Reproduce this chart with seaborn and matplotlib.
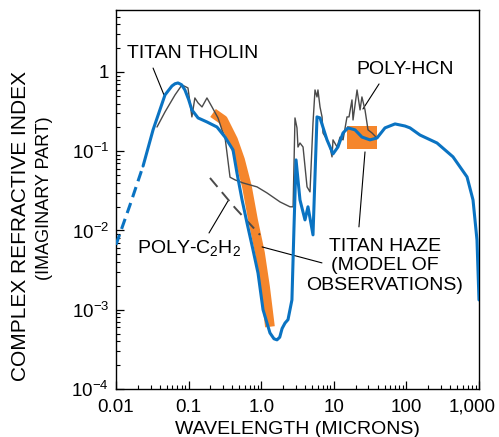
import numpy as np
import pandas as pd
import matplotlib
matplotlib.use('Agg')
import matplotlib.pyplot as plt
import matplotlib.transforms as mtransforms
import seaborn as sns
from matplotlib.ticker import FixedLocator, NullFormatter

sns.set_style('white')
plt.rcParams['font.family'] = ['Liberation Sans', 'DejaVu Sans']
plt.rcParams['mathtext.fontset'] = 'custom'
plt.rcParams['mathtext.rm'] = 'Liberation Sans'
plt.rcParams['mathtext.default'] = 'regular'
for k in ['text.color', 'axes.labelcolor', 'xtick.color', 'ytick.color', 'axes.edgecolor']:
    plt.rcParams[k] = 'black'

# titan haze model (blue), dashed extrapolation at short wavelengths
haze_dash_x = [0.01, 0.0156, 0.0236]
haze_dash_y = [0.0066, 0.021, 0.065]
haze_x = [0.0236, 0.0324, 0.0473, 0.059, 0.0650, 0.0715, 0.080, 0.089, 0.100, 0.111,
          0.135, 0.179, 0.246, 0.317, 0.409, 0.464, 0.545, 0.637, 0.771, 0.904,
          1.06, 1.32, 1.50, 1.65, 1.80, 1.94, 2.13, 2.34, 2.65, 2.83,
          3.02, 3.42, 4.01, 4.41, 5.17, 5.87, 6.46, 8.06, 9.75, 11.4,
          13.4, 15.7, 19.6, 24.4, 31.5, 39.4, 50.7, 69.7, 95.6, 112,
          154, 264, 438, 684, 827, 938, 1000]
haze_y = [0.065, 0.186, 0.513, 0.666, 0.71, 0.727, 0.69, 0.593, 0.45, 0.332,
          0.263, 0.234, 0.202, 0.151, 0.104, 0.053, 0.0243, 0.0125, 0.0057, 0.0029,
          0.0010, 0.00051, 0.00043, 0.000417, 0.00045, 0.00058, 0.00068, 0.00075, 0.00133, 0.0111,
          0.0777, 0.0243, 0.0136, 0.0199, 0.0088, 0.271, 0.263, 0.139, 0.0925, 0.113,
          0.17, 0.197, 0.186, 0.151, 0.139, 0.147, 0.197, 0.221, 0.208, 0.197,
          0.16, 0.127, 0.085, 0.0474, 0.0243, 0.0076, 0.00133]

# titan tholin (thin grey)
tholin_x = [0.0367, 0.0473, 0.065, 0.081, 0.098, 0.111, 0.122, 0.135, 0.153, 0.179,
            0.21, 0.254, 0.288, 0.317, 0.338, 0.372, 0.436, 0.561, 0.875, 1.2,
            1.82, 2.49, 2.75, 2.92, 3.11, 3.21, 3.42, 3.77, 4.28, 4.70,
            5.17, 5.51, 5.87, 6.05, 6.46, 6.89, 7.1, 8.06, 8.87, 9.45,
            9.75, 11.1, 12.2, 13.4, 15.2, 16.2, 17.8, 18.4, 20.9, 23.0,
            24.4, 26.9, 29.6, 33.6, 38.1]
tholin_y = [0.202, 0.313, 0.513, 0.686, 0.629, 0.271, 0.47, 0.407, 0.362, 0.47,
            0.362, 0.263, 0.186, 0.151, 0.095, 0.047, 0.0435, 0.0398, 0.0355, 0.0298,
            0.0229, 0.0199, 0.0199, 0.263, 0.197, 0.113, 0.127, 0.113, 0.0355, 0.0307,
            0.227, 0.593, 0.484, 0.593, 0.362, 0.271, 0.17, 0.139, 0.113, 0.0848,
            0.139, 0.113, 0.151, 0.139, 0.271, 0.271, 0.444, 0.248, 0.593, 0.332,
            0.484, 0.332, 0.186, 0.17, 0.151]

# poly-C2H2 (dashed)
c2h2_x = [0.197, 0.436, 0.962]
c2h2_y = [0.046, 0.0193, 0.0088]

# poly-HCN visible band (thick orange) and infrared box
hcn_x = [0.217, 0.298, 0.409, 0.511, 0.637, 0.771, 0.962, 1.13, 1.32]
hcn_y = [0.304, 0.248, 0.139, 0.0777, 0.0355, 0.0136, 0.0052, 0.00194, 0.00061]
hcn_box_x = [15.2, 39.4]
hcn_box_y = [0.107, 0.209]

xtick_vals = [0.01, 0.1, 1, 10, 100, 1000]
xtick_labels = ['0.01', '0.1', '1.0', '10', '100', '1,000']
ytick_vals = [1e-4, 1e-3, 1e-2, 1e-1, 1]
ytick_labels = [r'$10^{-4}$', r'$10^{-3}$', r'$10^{-2}$', r'$10^{-1}$', '1']

blue = '#0a73c2'
orange = '#f5862c'
grey = '#4a4a4a'

fig = plt.figure(figsize=(4.99, 4.37), dpi=100)
ax = fig.add_axes([116 / 499, 1 - 389 / 437, 363 / 499, 379 / 437])
ax.set_xscale('log')
ax.set_yscale('log')

ax.fill_between(hcn_box_x, hcn_box_y[0], hcn_box_y[1], color=orange, lw=0, zorder=1)
sns.lineplot(x=hcn_x, y=hcn_y, ax=ax, color=orange, lw=7, sort=False,
             estimator=None, solid_capstyle='butt', zorder=2)
sns.lineplot(x=tholin_x, y=tholin_y, ax=ax, color=grey, lw=1.0, sort=False,
             estimator=None, zorder=3)
sns.lineplot(x=c2h2_x, y=c2h2_y, ax=ax, color=grey, lw=1.4, sort=False,
             estimator=None, zorder=3)
ax.lines[-1].set_dashes([6, 3.5])
sns.lineplot(x=haze_x, y=haze_y, ax=ax, color=blue, lw=2.2, sort=False,
             estimator=None, zorder=4)
sns.lineplot(x=haze_dash_x, y=haze_dash_y, ax=ax, color=blue, lw=2.2, sort=False,
             estimator=None, zorder=4)
ax.lines[-1].set_dashes([3.5, 2])

# labels and leader lines
fs = 14
ax.text(0.0142, 1.69, 'TITAN THOLIN', fontsize=fs, ha='left', va='center')
ax.plot([0.0324, 0.0458], [1.12, 0.513], color='k', lw=0.8)
ax.text(20.2, 1.06, 'POLY-HCN', fontsize=fs, ha='left', va='center')
ax.plot([42, 25.2], [0.706, 0.341], color='k', lw=0.8)
ax.text(0.0195, 0.0052, 'POLY-C$_2$H$_2$', fontsize=fs, ha='left', va='baseline')
ax.plot([0.191, 0.349], [0.0093, 0.0236], color='k', lw=0.8)
ax.text(50.7, 0.0036, 'TITAN HAZE\n(MODEL OF\nOBSERVATIONS)', fontsize=fs,
        ha='center', va='center', multialignment='center', linespacing=1.2)
ax.plot([26.9, 22.2], [0.098, 0.0111], color='k', lw=0.8)
ax.plot([1.03, 6.87], [0.0062, 0.0039], color='k', lw=0.8)

ax.set_xlim(0.01, 1000)
ax.set_ylim(1e-4, 6.05)
ax.xaxis.set_major_locator(FixedLocator(xtick_vals))
ax.set_xticklabels(xtick_labels)
ax.yaxis.set_major_locator(FixedLocator(ytick_vals))
ax.set_yticklabels(ytick_labels)
minor_x = [m * 10.0 ** e for e in range(-2, 3) for m in range(2, 10)]
minor_y = [m * 10.0 ** e for e in range(-4, 1) for m in range(2, 10)]
ax.xaxis.set_minor_locator(FixedLocator(minor_x))
ax.yaxis.set_minor_locator(FixedLocator(minor_y))
ax.xaxis.set_minor_formatter(NullFormatter())
ax.yaxis.set_minor_formatter(NullFormatter())
ax.tick_params(which='major', direction='in', length=6, width=0.9, labelsize=13.5,
               bottom=True, left=True, top=False, right=False, pad=5)
ax.tick_params(axis='x', which='major', pad=7)
ax.tick_params(which='minor', direction='in', length=3, width=0.8,
               bottom=True, left=True, top=False, right=False)
for s in ax.spines.values():
    s.set_color('k')
    s.set_linewidth(1.0)

# last x label sits a little left of its tick
last = ax.get_xticklabels()[-1]
last.set_transform(last.get_transform() + mtransforms.ScaledTranslation(-7 / 100, 0, fig.dpi_scale_trans))

ax.set_xlabel('WAVELENGTH (MICRONS)', fontsize=fs, labelpad=4)
# two-line y label, placed line by line as in the original
fig.text(20.5 / 499, 1 - 226 / 437, 'COMPLEX REFRACTIVE INDEX', fontsize=15,
         rotation=90, ha='center', va='center')
fig.text(44.5 / 499, 1 - 198.5 / 437, '(IMAGINARY PART)', fontsize=13,
         rotation=90, ha='center', va='center')

fig.savefig('out.png', dpi=100)
